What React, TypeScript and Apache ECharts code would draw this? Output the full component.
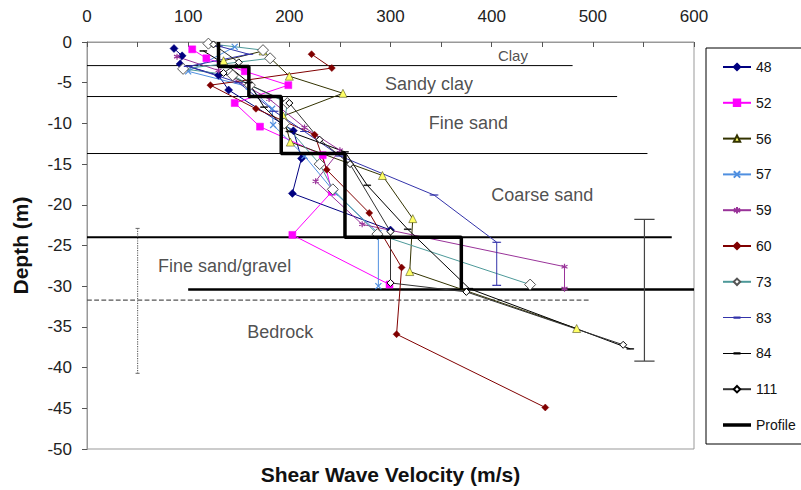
import React, { useEffect, useRef } from "react";
import * as echarts from "echarts";

// Shear wave velocity (m/s) vs depth (m) for each sounding
const s48: [number, number][] = [[86, -0.8], [94, -1.7], [92, -2.7], [130, -4.1], [140, -5.9], [204, -10.9], [212, -14.3], [203, -18.6], [300, -23.1]];
const s52: [number, number][] = [[104, -0.9], [118, -2.0], [156, -3.6], [199, -5.3], [146, -7.5], [171, -10.4], [233, -13.9], [242, -18.4], [203, -23.7], [299, -29.8]];
const s56: [number, number][] = [[135, -2.3], [174, -1.1], [200, -4.2], [253, -6.3], [194, -9.1], [201, -12.3], [292, -16.4], [322, -21.7], [319, -28.2], [484, -35.2]];
const s57: [number, number][] = [[146, -0.6], [100, -3.6], [160, -5.5], [183, -8.2], [184, -10.2], [215, -14.0], [245, -18.5], [288, -23.5], [288, -30.0]];
const s59: [number, number][] = [[89, -1.8], [130, -3.5], [180, -7.0], [215, -10.5], [250, -13.3], [226, -17.1], [272, -22.4], [472, -27.6], [472, -30.3]];
const s60: [number, number][] = [[222, -1.5], [242, -3.2], [122, -5.3], [167, -8.2], [225, -11.4], [237, -15.7], [279, -21.0], [311, -27.7], [306, -35.9], [453, -44.9]];
const s73: [number, number][] = [[120, -0.2], [174, -1.0], [181, -2.0], [95, -3.3], [144, -4.1], [161, -5.3], [198, -7.5], [195, -10.0], [230, -15.0], [243, -18.1], [287, -23.6], [438, -29.8]];
const s83: [number, number][] = [[130, -0.5], [160, -1.5], [100, -3.0], [150, -5.0], [185, -8.5], [215, -11.0], [250, -14.0], [343, -18.8], [405, -24.6], [405, -29.9]];
const s84: [number, number][] = [[115, -1.1], [140, -3.0], [160, -5.0], [175, -8.0], [200, -11.0], [255, -13.5], [277, -17.6], [317, -23.0], [378, -30.3], [537, -37.7]];
const s111: [number, number][] = [[125, -0.3], [150, -2.5], [135, -3.8], [200, -7.5], [230, -12.0], [260, -15.0], [300, -23.3], [300, -29.6], [375, -30.7], [530, -37.2]];

// Interpreted velocity profile
const profile: [number, number][] = [[130, 0], [130, -3], [160, -3], [160, -6.7], [192, -6.7], [192, -13.7], [255, -13.7], [255, -24], [370, -24], [370, -30.4]];

// Layer boundaries: [depth, velocity from, velocity to]
const boundaries: [number, number, number][] = [[-2.9, 0, 480], [-6.7, 0, 524], [-13.7, 0, 554], [-24, 0, 578], [-30.4, 100, 600]];
const bedrockTop: [number, number, number] = [-31.7, 0, 497];

// Depth ranges: [velocity, top, bottom]
const dottedRange: [number, number, number] = [50, -22.9, -40.7];
const solidRange: [number, number, number] = [551, -21.8, -39.2];

const layerNames = ["Clay", "Sandy clay", "Fine sand", "Coarse sand", "Fine sand/gravel", "Bedrock"];
const layerNameAt: [number, number][] = [[421, -1.7], [338, -5.2], [377, -9.9], [450, -18.8], [136, -27.5], [191, -35.6]];

const FONT = "'Liberation Sans', Arial, sans-serif";

const X_MARK = "path://M0,0L10,10M10,0L0,10";
const STAR_MARK = "path://M5,0L5,10M0,2.5L10,7.5M0,7.5L10,2.5";
const DASH_MARK = "path://M0,0L10,0L10,3L0,3Z";
// Legend keys: a line with a short dash on it, and a heavy bar
const DASH_KEY = "path://M0,3.5L28,3.5L28,4.5L0,4.5Z M10.5,2.8L17.5,2.8L17.5,5.2L10.5,5.2Z M0,0L0.01,0 M0,8L0.01,8";
const BAR_KEY = "path://M0,0L28,0L28,3.5L0,3.5Z";

type Spec = {
  name: string;
  data: [number, number][];
  line: string;
  symbol: string;
  size: number | number[];
  fill: string;
  border: string;
  borderWidth?: number;
  key?: string;
};

const soundings: Spec[] = [
  { name: "48", data: s48, line: "#000080", symbol: "diamond", size: 8, fill: "#000080", border: "#000080" },
  { name: "52", data: s52, line: "#ff00ff", symbol: "rect", size: 7, fill: "#ff00ff", border: "#ff00ff" },
  { name: "56", data: s56, line: "#333300", symbol: "triangle", size: 8, fill: "#ffff66", border: "#333300" },
  { name: "57", data: s57, line: "#4f8fe0", symbol: X_MARK, size: 6, fill: "none", border: "#4f8fe0", borderWidth: 1.2 },
  { name: "59", data: s59, line: "#993399", symbol: STAR_MARK, size: 6, fill: "none", border: "#993399", borderWidth: 1.2 },
  { name: "60", data: s60, line: "#800000", symbol: "diamond", size: 7, fill: "#800000", border: "#800000" },
  { name: "73", data: s73, line: "#4d9999", symbol: "diamond", size: 11, fill: "#ffffff", border: "#555555", borderWidth: 1 },
  { name: "83", data: s83, line: "#3333aa", symbol: DASH_MARK, size: [7, 2], fill: "#3333aa", border: "#3333aa", key: DASH_KEY },
  { name: "84", data: s84, line: "#000000", symbol: DASH_MARK, size: [7, 2.5], fill: "#000000", border: "#000000", key: DASH_KEY },
  { name: "111", data: s111, line: "#333333", symbol: "diamond", size: 7, fill: "#ffffff", border: "#000000", borderWidth: 1 },
];

function segment(points: [number, number][], color: string, width: number, type: string = "solid", z = 2) {
  return {
    type: "line",
    data: points,
    symbol: "none",
    silent: true,
    z,
    lineStyle: { color, width, type },
  };
}

export default function App() {
  const ref = useRef<HTMLDivElement>(null);

  useEffect(() => {
    if (!ref.current) return;
    const chart = echarts.init(ref.current, undefined, { renderer: "svg" });

    const boundaryWidths = [1, 1, 1, 2, 2.5];
    const guideSeries: any[] = boundaries.map(([d, a, b], i) =>
      segment([[a, d], [b, d]], "#000000", boundaryWidths[i])
    );
    guideSeries.push(segment([[bedrockTop[1], bedrockTop[0]], [bedrockTop[2], bedrockTop[0]]], "#555555", 1.2, "dashed"));

    const [dv, dt, db] = dottedRange;
    guideSeries.push(segment([[dv, dt], [dv, db]], "#666666", 1.2, "dotted"));
    guideSeries.push(segment([[dv - 2, dt], [dv + 2, dt]], "#666666", 1));
    guideSeries.push(segment([[dv - 2, db], [dv + 2, db]], "#666666", 1));

    const [sv, st, sb] = solidRange;
    guideSeries.push(segment([[sv, st], [sv, sb]], "#444444", 1.2));
    guideSeries.push(segment([[sv - 10, st], [sv + 10, st]], "#444444", 1.2));
    guideSeries.push(segment([[sv - 10, sb], [sv + 10, sb]], "#444444", 1.2));

    const soundingSeries = soundings.map((s) => ({
      name: s.name,
      type: "line",
      data: s.data,
      symbol: s.symbol,
      symbolSize: s.size,
      symbolKeepAspect: true,
      z: 3,
      lineStyle: { color: s.line, width: 1 },
      itemStyle: { color: s.fill, borderColor: s.border, borderWidth: s.borderWidth ?? 0.5 },
    }));

    const profileSeries = {
      name: "Profile",
      type: "line",
      data: profile,
      symbol: "none",
      z: 4,
      lineStyle: { color: "#000000", width: 3.5 },
      itemStyle: { color: "#000000" },
    };

    const labelSeries = {
      type: "scatter",
      silent: true,
      symbolSize: 0,
      z: 5,
      data: layerNameAt.map((p, i) => ({ value: p, name: layerNames[i] })),
      label: {
        show: true,
        position: "inside",
        formatter: (p: any) => p.name,
        color: "#222222",
        fontFamily: FONT,
        fontSize: 18,
      },
    };
    (labelSeries.data[0] as any).label = { fontSize: 15 };

    const legendData = [
      ...soundings.map((s) =>
        s.key ? { name: s.name, icon: s.key, itemStyle: { borderWidth: 0 } } : { name: s.name }
      ),
      { name: "Profile", icon: BAR_KEY },
    ];

    chart.setOption({
      animation: false,
      backgroundColor: "#ffffff",
      grid: { left: 87, top: 42, right: 107, bottom: 35, show: true, borderColor: "#999999", borderWidth: 1 },
      legend: {
        orient: "vertical",
        left: 706,
        top: 48,
        padding: [12, 14, 12, 16],
        itemGap: 21.8,
        itemWidth: 28,
        itemHeight: 8,
        borderColor: "#000000",
        borderWidth: 1,
        symbolKeepAspect: true,
        data: legendData,
        textStyle: { fontFamily: FONT, fontSize: 14, color: "#111111" },
      },
      xAxis: [
        {
          type: "value",
          position: "top",
          min: 0,
          max: 600,
          interval: 50,
          axisLine: { show: true, lineStyle: { color: "#555555", width: 1 } },
          axisTick: { show: true, inside: true, length: 5, lineStyle: { color: "#555555" } },
          axisLabel: {
            margin: 17,
            fontFamily: FONT,
            fontSize: 17,
            color: "#222222",
            formatter: (v: number) => (v % 100 === 0 ? String(v) : ""),
          },
          splitLine: { show: false },
        },
        {
          type: "value",
          position: "bottom",
          min: 0,
          max: 600,
          axisLine: { show: true, lineStyle: { color: "#999999" } },
          axisTick: { show: false },
          axisLabel: { show: false },
          splitLine: { show: false },
          name: "Shear Wave Velocity (m/s)",
          nameLocation: "middle",
          nameGap: 15,
          nameTextStyle: { fontFamily: FONT, fontSize: 21, fontWeight: "bold", color: "#111111" },
        },
      ],
      yAxis: [
        {
          type: "value",
          min: -50,
          max: 0,
          interval: 5,
          axisLine: { show: true, lineStyle: { color: "#555555", width: 1 } },
          axisTick: { show: true, length: 5, lineStyle: { color: "#555555" } },
          axisLabel: { margin: 15, fontFamily: FONT, fontSize: 17, color: "#222222" },
          splitLine: { show: false },
          name: "Depth (m)",
          nameLocation: "middle",
          nameGap: 56,
          nameTextStyle: { fontFamily: FONT, fontSize: 21, fontWeight: "bold", color: "#111111" },
        },
        {
          type: "value",
          position: "right",
          min: -50,
          max: 0,
          axisLine: { show: true, lineStyle: { color: "#999999" } },
          axisTick: { show: false },
          axisLabel: { show: false },
          splitLine: { show: false },
        },
      ],
      series: [...guideSeries, ...soundingSeries, profileSeries, labelSeries],
    });

    return () => chart.dispose();
  }, []);

  return <div ref={ref} style={{ width: 801, height: 490, position: "absolute", left: 0, top: 0 }} />;
}
